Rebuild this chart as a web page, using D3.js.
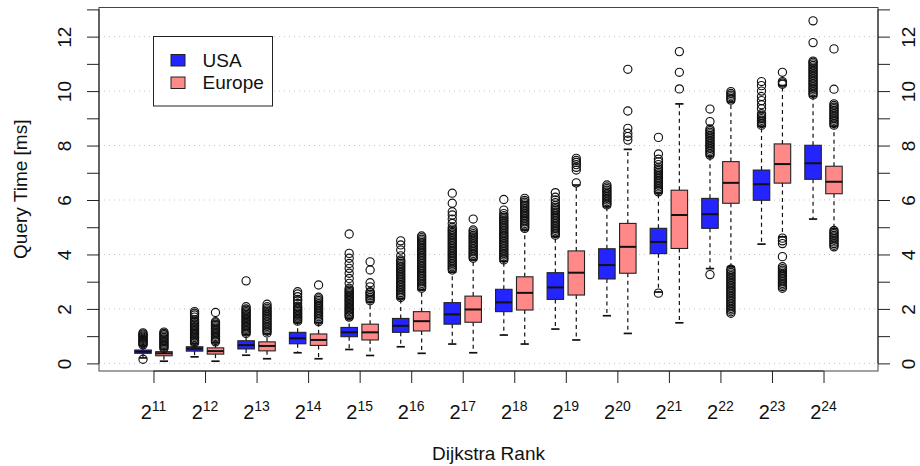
<!DOCTYPE html>
<html>
<head>
<meta charset="utf-8">
<script src="https://cdn.jsdelivr.net/npm/d3@7"></script>
<style>
  body { margin: 0; background: #fff; }
  text { font-family: "Liberation Sans", Arial, Helvetica, sans-serif; }
</style>
</head>
<body>
<svg id="chart" width="920" height="466"></svg>
<script>
// exponents of the Dijkstra rank (2^x)
var ranks = [11, 12, 13, 14, 15, 16, 17, 18, 19, 20, 21, 22, 23, 24];

// USA box stats: lower whisker, Q1, median, Q3, upper whisker
var usaLow = [0.20, 0.24, 0.30, 0.39, 0.51, 0.61, 0.71, 1.04, 1.26, 1.75, 2.62, 3.48, 4.38, 5.30];
var usaQ1  = [0.37, 0.45, 0.53, 0.72, 0.98, 1.14, 1.44, 1.90, 2.35, 3.10, 4.03, 4.96, 5.99, 6.76];
var usaMed = [0.43, 0.54, 0.67, 0.92, 1.14, 1.38, 1.80, 2.24, 2.79, 3.61, 4.46, 5.48, 6.58, 7.35];
var usaQ3  = [0.49, 0.61, 0.83, 1.14, 1.32, 1.65, 2.23, 2.72, 3.33, 4.21, 4.96, 6.06, 7.10, 8.01];
var usaHigh = [0.65, 0.72, 1.05, 1.50, 1.65, 2.38, 3.35, 3.75, 4.65, 5.75, 6.25, 7.60, 8.70, 9.80];
var usaOut = [
    [0.15, 0.68, 0.72, 0.76, 0.8, 0.84, 0.88, 0.92, 0.96, 1.0, 1.04, 1.08, 1.12],
    [0.75, 0.8, 0.85, 0.9, 0.95, 1.0, 1.05, 1.1, 1.15, 1.2, 1.25, 1.3, 1.35, 1.4, 1.45, 1.5, 1.55, 1.6, 1.7, 1.78, 1.84, 1.9],
    [1.1, 1.15, 1.2, 1.25, 1.3, 1.35, 1.4, 1.45, 1.5, 1.55, 1.6, 1.65, 1.7, 1.75, 1.8, 1.85, 1.9, 1.95, 2.0, 2.08, 3.03],
    [1.55, 1.6, 1.65, 1.7, 1.75, 1.8, 1.85, 1.9, 1.95, 2.0, 2.05, 2.1, 2.2, 2.3, 2.35, 2.45, 2.55, 2.63],
    [1.7, 1.75, 1.8, 1.85, 1.9, 1.95, 2.0, 2.05, 2.1, 2.15, 2.2, 2.25, 2.3, 2.35, 2.4, 2.45, 2.5, 2.55, 2.6, 2.65, 2.7, 2.76, 2.94, 3.12, 3.31, 3.49, 3.67, 3.86, 4.04, 4.75],
    [2.42, 2.48, 2.54, 2.6, 2.66, 2.72, 2.78, 2.84, 2.9, 2.96, 3.02, 3.08, 3.14, 3.2, 3.26, 3.32, 3.38, 3.44, 3.5, 3.56, 3.62, 3.68, 3.74, 3.8, 3.95, 4.16, 4.35, 4.5],
    [3.43, 3.49, 3.55, 3.61, 3.67, 3.73, 3.79, 3.85, 3.91, 3.97, 4.03, 4.09, 4.15, 4.21, 4.27, 4.33, 4.39, 4.45, 4.51, 4.57, 4.63, 4.69, 4.75, 4.81, 4.87, 4.93, 5.0, 5.14, 5.3, 5.45, 5.57, 5.88, 6.25],
    [3.8, 3.86, 3.92, 3.98, 4.04, 4.1, 4.16, 4.22, 4.28, 4.34, 4.4, 4.46, 4.52, 4.58, 4.64, 4.7, 4.76, 4.82, 4.88, 4.94, 5.0, 5.06, 5.12, 5.18, 5.24, 5.3, 5.36, 5.42, 5.5, 5.63, 6.02],
    [4.71, 4.77, 4.83, 4.89, 4.95, 5.01, 5.07, 5.13, 5.19, 5.25, 5.31, 5.37, 5.43, 5.49, 5.55, 5.61, 5.67, 5.73, 5.8, 5.9, 6.0, 6.1, 6.27],
    [5.82, 5.88, 5.94, 6.0, 6.06, 6.12, 6.18, 6.24, 6.3, 6.36, 6.42, 6.48, 6.55],
    [2.58, 6.3, 6.36, 6.42, 6.48, 6.54, 6.6, 6.66, 6.72, 6.78, 6.84, 6.9, 6.96, 7.02, 7.08, 7.14, 7.2, 7.3, 7.4, 7.5, 7.69, 8.3],
    [3.26, 7.65, 7.71, 7.77, 7.83, 7.89, 7.95, 8.01, 8.07, 8.13, 8.19, 8.25, 8.31, 8.37, 8.43, 8.49, 8.55, 8.61, 8.88, 9.34],
    [8.75, 8.81, 8.87, 8.93, 8.99, 9.05, 9.11, 9.17, 9.35, 9.5, 9.65, 9.8, 10.0, 10.2, 10.35],
    [9.86, 9.92, 9.98, 10.04, 10.1, 10.16, 10.22, 10.28, 10.34, 10.4, 10.46, 10.52, 10.58, 10.64, 10.7, 10.76, 10.82, 10.88, 10.94, 11.0, 11.06, 11.1, 11.78, 12.58]
];

// Europe box stats
var eurLow = [0.08, 0.08, 0.17, 0.17, 0.29, 0.37, 0.39, 0.71, 0.86, 1.10, 1.49, 3.55, 4.65, 4.95];
var eurQ1  = [0.28, 0.34, 0.46, 0.66, 0.86, 1.19, 1.51, 1.96, 2.51, 3.31, 4.22, 5.88, 6.62, 6.23];
var eurMed = [0.37, 0.45, 0.64, 0.86, 1.14, 1.55, 1.98, 2.59, 3.33, 4.28, 5.45, 6.63, 7.32, 6.67];
var eurQ3  = [0.43, 0.57, 0.79, 1.08, 1.44, 1.90, 2.47, 3.18, 4.13, 5.14, 6.36, 7.41, 8.06, 7.24];
var eurHigh = [0.52, 0.76, 1.08, 1.50, 2.25, 2.70, 3.80, 4.90, 6.55, 7.86, 9.53, 9.60, 10.20, 8.70];
var eurOut = [
    [0.55, 0.6, 0.65, 0.7, 0.75, 0.8, 0.85, 0.9, 0.95, 1.0, 1.05, 1.1, 1.15],
    [0.79, 0.84, 0.89, 0.94, 0.99, 1.04, 1.09, 1.14, 1.19, 1.24, 1.29, 1.34, 1.39, 1.44, 1.49, 1.53, 1.87],
    [1.12, 1.18, 1.24, 1.3, 1.36, 1.42, 1.48, 1.54, 1.6, 1.66, 1.72, 1.78, 1.84, 1.9, 1.96, 2.02, 2.08, 2.17],
    [1.53, 1.59, 1.65, 1.71, 1.77, 1.83, 1.89, 1.95, 2.01, 2.07, 2.13, 2.19, 2.25, 2.31, 2.37, 2.43, 2.88],
    [2.3, 2.36, 2.42, 2.48, 2.54, 2.6, 2.63, 2.81, 2.96, 3.43, 3.73],
    [2.76, 2.82, 2.88, 2.94, 3.0, 3.06, 3.12, 3.18, 3.24, 3.3, 3.36, 3.42, 3.48, 3.54, 3.6, 3.66, 3.72, 3.78, 3.84, 3.9, 3.96, 4.02, 4.08, 4.14, 4.2, 4.26, 4.32, 4.38, 4.44, 4.5, 4.56, 4.62, 4.68],
    [3.86, 3.92, 3.98, 4.04, 4.1, 4.16, 4.22, 4.28, 4.34, 4.4, 4.46, 4.52, 4.58, 4.64, 4.7, 4.76, 4.83, 4.9, 5.3],
    [4.96, 5.02, 5.08, 5.14, 5.2, 5.26, 5.32, 5.38, 5.44, 5.5, 5.56, 5.62, 5.68, 5.74, 5.8, 5.86, 5.92, 5.98, 6.06],
    [6.63, 7.1, 7.2, 7.3, 7.38, 7.45, 7.53],
    [8.2, 8.33, 8.45, 8.63, 9.27, 10.8],
    [10.08, 10.69, 11.45],
    [1.84, 1.9, 1.96, 2.02, 2.08, 2.14, 2.2, 2.26, 2.32, 2.38, 2.44, 2.5, 2.56, 2.62, 2.68, 2.74, 2.8, 2.86, 2.92, 2.98, 3.04, 3.1, 3.16, 3.22, 3.28, 3.34, 3.4, 3.46, 9.67, 9.73, 9.79, 9.85, 9.91, 9.98],
    [2.76, 2.82, 2.88, 2.94, 3.0, 3.06, 3.12, 3.18, 3.24, 3.3, 3.36, 3.42, 3.48, 3.55, 3.92, 4.4, 4.5, 4.6, 10.25, 10.3, 10.35, 10.69],
    [4.28, 4.34, 4.4, 4.46, 4.52, 4.58, 4.64, 4.7, 4.76, 4.82, 4.88, 8.75, 8.81, 8.87, 8.93, 8.99, 9.05, 9.11, 9.17, 9.23, 9.29, 9.35, 9.41, 9.47, 9.53, 10.07, 11.55]
];

var yTicks = d3.range(0, 14);
var gridValues = [0, 2, 4, 6, 8, 10, 12];

var series = [
    {name: 'USA', fill: '#2424ff', low: usaLow, q1: usaQ1, med: usaMed, q3: usaQ3, high: usaHigh, out: usaOut, side: -1},
    {name: 'Europe', fill: '#ff8888', low: eurLow, q1: eurQ1, med: eurMed, q3: eurQ3, high: eurHigh, out: eurOut, side: 1}
];

var plotL = 99, plotR = 878, plotT = 7.5, plotB = 371;
var fontSize = '19px';
var svg = d3.select('#chart');

var xScale = d3.scalePoint()
    .domain(ranks)
    .range([plotL, plotR])
    .padding(1.057);
var step = xScale.step();
var boxW = step * 0.32;
var boxOff = step * 0.203;

var yScale = d3.scaleLinear()
    .domain([-0.28, 13.07])
    .range([plotB, plotT]);

// dotted grid
svg.append('g').selectAll('line')
    .data(gridValues)
    .enter().append('line')
    .attr('x1', plotL).attr('x2', plotR)
    .attr('y1', function(d) { return yScale(d); })
    .attr('y2', function(d) { return yScale(d); })
    .attr('stroke', '#c4c4c4')
    .attr('stroke-dasharray', '1,4');

// boxes
series.forEach(function(s) {
    var rows = ranks.map(function(r, i) {
        return {rank: r, low: s.low[i], q1: s.q1[i], med: s.med[i], q3: s.q3[i], high: s.high[i], out: s.out[i]};
    });
    var cx = function(d) { return xScale(d.rank) + s.side * boxOff; };

    var g = svg.append('g').attr('class', 'series-' + s.name);
    var box = g.selectAll('.box')
        .data(rows)
        .enter().append('g')
        .attr('class', 'box');

    // whiskers
    box.append('line')
        .attr('x1', cx).attr('x2', cx)
        .attr('y1', function(d) { return yScale(d.q3); })
        .attr('y2', function(d) { return yScale(d.high); })
        .attr('stroke', '#111').attr('stroke-width', 1.2).attr('stroke-dasharray', '4,3.5');
    box.append('line')
        .attr('x1', cx).attr('x2', cx)
        .attr('y1', function(d) { return yScale(d.q1); })
        .attr('y2', function(d) { return yScale(d.low); })
        .attr('stroke', '#111').attr('stroke-width', 1.2).attr('stroke-dasharray', '4,3.5');

    // staples
    ['low', 'high'].forEach(function(k) {
        box.append('line')
            .attr('x1', function(d) { return cx(d) - boxW / 4; })
            .attr('x2', function(d) { return cx(d) + boxW / 4; })
            .attr('y1', function(d) { return yScale(d[k]); })
            .attr('y2', function(d) { return yScale(d[k]); })
            .attr('stroke', '#111').attr('stroke-width', 1.7);
    });

    box.append('rect')
        .attr('x', function(d) { return cx(d) - boxW / 2; })
        .attr('width', boxW)
        .attr('y', function(d) { return yScale(d.q3); })
        .attr('height', function(d) { return yScale(d.q1) - yScale(d.q3); })
        .attr('fill', s.fill)
        .attr('stroke', '#222').attr('stroke-width', 1.1);

    box.append('line')
        .attr('x1', function(d) { return cx(d) - boxW / 2; })
        .attr('x2', function(d) { return cx(d) + boxW / 2; })
        .attr('y1', function(d) { return yScale(d.med); })
        .attr('y2', function(d) { return yScale(d.med); })
        .attr('stroke', '#111').attr('stroke-width', 2);

    // outliers
    box.selectAll('circle')
        .data(function(d) {
            return d.out.map(function(v) { return {x: cx(d), v: v}; });
        })
        .enter().append('circle')
        .attr('cx', function(d) { return d.x; })
        .attr('cy', function(d) { return yScale(d.v); })
        .attr('r', 4.1)
        .attr('fill', 'none')
        .attr('stroke', '#111').attr('stroke-width', 1.15);
});

// frame
svg.append('rect')
    .attr('x', plotL).attr('y', plotT)
    .attr('width', plotR - plotL).attr('height', plotB - plotT)
    .attr('fill', 'none').attr('stroke', '#444').attr('stroke-width', 1);

// left and right axes
var yAxisL = d3.axisLeft(yScale).tickValues(yTicks).tickSize(12)
    .tickFormat(function(d) { return d % 2 ? '' : d; });
var yAxisR = d3.axisRight(yScale).tickValues(yTicks).tickSize(12)
    .tickFormat(function(d) { return d % 2 ? '' : d; });

var gl = svg.append('g').attr('transform', 'translate(' + plotL + ',0)').call(yAxisL);
var gr = svg.append('g').attr('transform', 'translate(' + plotR + ',0)').call(yAxisR);
[gl, gr].forEach(function(g, k) {
    g.select('.domain')
        .attr('d', 'M0,' + yScale(0) + 'V' + yScale(13))
        .attr('stroke', '#222');
    g.selectAll('.tick line').attr('stroke', '#222');
    g.selectAll('.tick text')
        .attr('x', 0).attr('y', 0).attr('dy', 0)
        .attr('text-anchor', 'middle')
        .attr('transform', k === 0 ? 'translate(-28,0) rotate(-90)' : 'translate(37,0) rotate(-90)')
        .style('font-size', fontSize)
        .style('font-family', '"Liberation Sans", Arial, sans-serif')
        .attr('fill', '#111');
});

// bottom axis
var xAxis = d3.axisBottom(xScale).tickSize(12).tickFormat('');
var gx = svg.append('g').attr('transform', 'translate(0,' + plotB + ')').call(xAxis);
gx.select('.domain')
    .attr('d', 'M' + xScale(ranks[0]) + ',0H' + xScale(ranks[ranks.length - 1]))
    .attr('stroke', '#222');
gx.selectAll('.tick line').attr('stroke', '#222');

var xl = svg.append('g').selectAll('text')
    .data(ranks)
    .enter().append('text')
    .attr('x', function(d) { return xScale(d); })
    .attr('y', 419)
    .attr('text-anchor', 'middle')
    .style('font-size', '20px')
    .attr('fill', '#111');
xl.append('tspan').text('2');
xl.append('tspan')
    .attr('dy', -8)
    .style('font-size', '14px')
    .text(function(d) { return d; });

// axis titles
svg.append('text')
    .attr('x', (plotL + plotR) / 2).attr('y', 460)
    .attr('text-anchor', 'middle')
    .style('font-size', fontSize)
    .attr('fill', '#111')
    .text('Dijkstra Rank');

svg.append('text')
    .attr('transform', 'translate(27,' + ((plotT + plotB) / 2) + ') rotate(-90)')
    .attr('text-anchor', 'middle')
    .style('font-size', fontSize)
    .attr('fill', '#111')
    .text('Query Time [ms]');

// legend
var lg = svg.append('g');
lg.append('rect')
    .attr('x', 153.5).attr('y', 36.5)
    .attr('width', 119).attr('height', 69.5)
    .attr('fill', '#fff').attr('stroke', '#222');
series.forEach(function(s, i) {
    lg.append('rect')
        .attr('x', 171).attr('y', 54.5 + i * 22.5)
        .attr('width', 14).attr('height', 11.5)
        .attr('fill', s.fill).attr('stroke', '#222');
    lg.append('text')
        .attr('x', 202.5).attr('y', 66.8 + i * 22.5)
        .style('font-size', fontSize)
        .attr('fill', '#111')
        .text(s.name);
});
</script>
</body>
</html>
